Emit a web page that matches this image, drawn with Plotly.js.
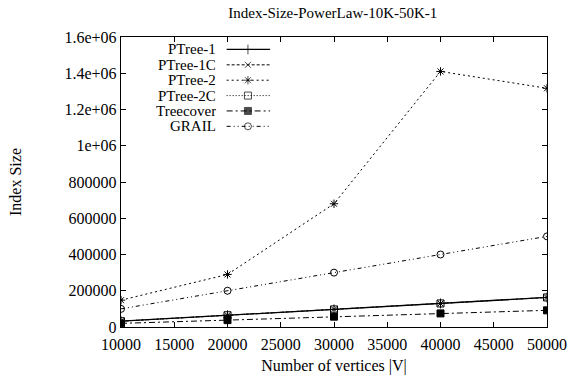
<!DOCTYPE html>
<html>
<head>
<meta charset="utf-8">
<script src="https://cdn.plot.ly/plotly-3.0.1.min.js"></script>
<style>html,body{margin:0;padding:0;background:#fff;}#chart{width:567px;height:375px;}</style>
</head>
<body>
<div id="chart"></div>
<script>
const vertices = [10000, 20000, 30000, 40000, 50000];
const ptree1 = [32000, 65000, 97000, 130000, 163000];
const ptree1c = [32000, 65000, 97000, 130000, 163000];
const ptree2 = [148000, 290000, 680000, 1410000, 1317000];
const ptree2c = [32000, 65000, 97000, 130000, 163000];
const treecover = [20000, 38000, 57000, 75000, 92000];
const grail = [100000, 200000, 300000, 400000, 500000];
const seriesNames = ["PTree-1", "PTree-1C", "PTree-2", "PTree-2C", "Treecover", "GRAIL"];
const yTickVals = [0, 200000, 400000, 600000, 800000, 1000000, 1200000, 1400000, 1600000];
const yTickText = ["0", "200000", "400000", "600000", "800000", "1e+06", "1.2e+06", "1.4e+06", "1.6e+06"];
const xTickVals = [10000, 15000, 20000, 25000, 30000, 35000, 40000, 45000, 50000];

const seriesData = [ptree1, ptree1c, ptree2, ptree2c, treecover, grail];
const styles = [
  {dash: "solid", width: 1.3, symbol: "cross-thin-open", size: 7},
  {dash: "3px,2px", width: 1, symbol: "x-thin-open", size: 6},
  {dash: "2px,3px", width: 1, symbol: "asterisk-open", size: 7},
  {dash: "1px,2px", width: 1, symbol: "square-open", size: 7},
  {dash: "6px,3px,2px,3px", width: 1, symbol: "square", size: 7},
  {dash: "4px,3px,1px,3px,1px,3px", width: 1, symbol: "circle-open", size: 7}
];

const traces = [];
seriesData.forEach((ys, i) => {
  const st = styles[i];
  traces.push({
    x: vertices, y: ys, name: seriesNames[i], type: "scatter", mode: "lines+markers",
    line: {color: "#000", width: st.width, dash: st.dash},
    marker: {symbol: st.symbol, size: st.size, color: "#000", line: {color: "#000", width: 1}},
    showlegend: false, hoverinfo: "skip"
  });
});

// legend key samples on a helper axis spanning the plot area
const keyX0 = 0.248, keyXm = 0.298, keyX1 = 0.35, keyTop = 0.957, keyStep = 0.053, keyTextX = 0.226;
const serif = "Liberation Serif";
const annotations = [];
seriesNames.forEach((nm, i) => {
  const st = styles[i];
  const yy = keyTop - i * keyStep;
  traces.push({
    x: [keyX0, keyXm, keyX1], y: [yy, yy, yy], xaxis: "x2", yaxis: "y2",
    type: "scatter", mode: "lines+markers",
    line: {color: "#000", width: st.width, dash: st.dash},
    marker: {symbol: st.symbol, size: [0, st.size, 0], color: "#000", line: {color: "#000", width: 1}},
    showlegend: false, hoverinfo: "skip"
  });
  annotations.push({
    xref: "x2", yref: "y2", x: keyTextX, y: yy, text: nm, showarrow: false,
    xanchor: "right", yanchor: "middle", borderpad: 0, height: 14,
    font: {family: serif, size: 15, color: "#000"}
  });
});

const font = {family: serif, size: 16, color: "#000"};
const layout = {
  width: 567, height: 375,
  margin: {l: 121, r: 20, t: 37, b: 48, pad: 0},
  paper_bgcolor: "#fff", plot_bgcolor: "#fff",
  font: font,
  title: {text: "Index-Size-PowerLaw-10K-50K-1", font: {family: serif, size: 15, color: "#000"}, x: 0.587, xanchor: "center", y: 0.965, yanchor: "middle"},
  xaxis: {
    range: [10000, 50000], tickvals: xTickVals, ticktext: xTickVals.map(String),
    ticks: "inside", ticklen: 5, tickwidth: 1, tickcolor: "#000",
    showline: true, linecolor: "#000", linewidth: 1.3, mirror: "ticks",
    showgrid: false, zeroline: false, ticklabelstandoff: 2,
    tickfont: font,
    title: {text: "Number of vertices |V|", font: font, standoff: 10}
  },
  yaxis: {
    range: [0, 1600000], tickvals: yTickVals, ticktext: yTickText,
    ticks: "inside", ticklen: 5, tickwidth: 1, tickcolor: "#000",
    showline: true, linecolor: "#000", linewidth: 1.3, mirror: "ticks",
    showgrid: false, zeroline: false,
    tickfont: font,
    title: {text: "Index Size", font: font, standoff: 38}
  },
  xaxis2: {range: [0, 1], overlaying: "x", visible: false, fixedrange: true},
  yaxis2: {range: [0, 1], overlaying: "y", visible: false, fixedrange: true},
  annotations: annotations,
  showlegend: false
};

Plotly.newPlot("chart", traces, layout, {staticPlot: true, displayModeBar: false});
</script>
</body>
</html>
